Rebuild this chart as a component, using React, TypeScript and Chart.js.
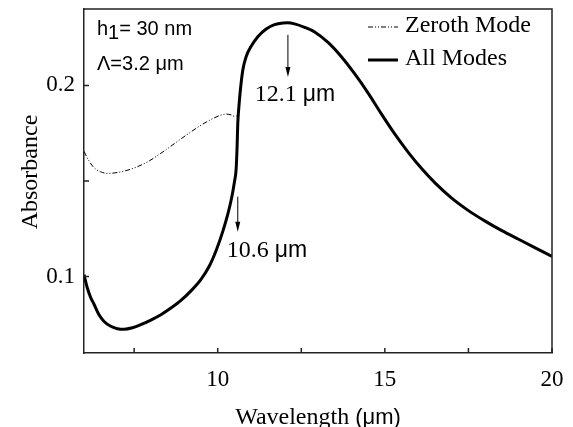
import React, { useEffect, useRef } from "react";
import { Chart, registerables } from "chart.js";

Chart.register(...registerables);

// ---- data ----
const allModesX = [6.0, 6.1, 6.2, 6.3, 6.45, 6.6, 6.8, 7.0, 7.2, 7.45, 7.7, 8.0, 8.3, 8.6, 8.9, 9.2, 9.5, 9.75, 9.95, 10.15, 10.3, 10.42, 10.5, 10.55, 10.58, 10.6, 10.63, 10.68, 10.75, 10.85, 11.0, 11.2, 11.45, 11.7, 11.95, 12.1, 12.3, 12.6, 12.9, 13.3, 13.7, 14.1, 14.5, 14.9, 15.3, 15.7, 16.1, 16.5, 17.0, 17.5, 18.0, 18.5, 19.0, 19.5, 20.0];
const allModesY = [0.101, 0.094, 0.089, 0.0855, 0.080, 0.0765, 0.074, 0.0727, 0.0724, 0.0732, 0.0748, 0.0772, 0.080, 0.0835, 0.0875, 0.0925, 0.0985, 0.1055, 0.1135, 0.1235, 0.1325, 0.1415, 0.1495, 0.156, 0.168, 0.18, 0.188, 0.198, 0.208, 0.215, 0.2205, 0.2255, 0.2295, 0.2318, 0.2327, 0.2328, 0.2322, 0.2304, 0.228, 0.2225, 0.215, 0.206, 0.196, 0.185, 0.1745, 0.165, 0.1565, 0.149, 0.141, 0.1345, 0.129, 0.124, 0.1195, 0.115, 0.1105];

const zerothX = [6.0, 6.15, 6.3, 6.5, 6.7, 6.9, 7.2, 7.5, 7.9, 8.3, 8.7, 9.1, 9.5, 9.8, 10.05, 10.25, 10.4, 10.5, 10.56, 10.6];
const zerothY = [0.1655, 0.1605, 0.157, 0.1548, 0.154, 0.1542, 0.1552, 0.1568, 0.16, 0.1645, 0.1695, 0.1745, 0.1792, 0.1822, 0.1842, 0.185, 0.1846, 0.1838, 0.184, 0.185];

const seriesNames = ["Zeroth Mode", "All Modes"];

const xMin = 6, xMax = 20;
const yMin = 0.06, yMax = 0.24;
const xTickValues = [7.5, 10, 12.5, 15, 17.5, 20];
const xTickLabels = ["", "10", "", "15", "", "20"];
const yTickValues = [0.1, 0.15, 0.2];
const yTickLabels = ["0.1", "", "0.2"];

const xTitle = "Wavelength ";
const xTitleUnit = "(\u03bcm)";
const yTitle = "Absorbance";

// annotations: arrows (x, yTop, yBottom) and labels (x, y, text)
const arrowX = [12.1, 10.6];
const arrowYTop = [0.2265, 0.1418];
const arrowYBottom = [0.2044, 0.1235];
const arrowLabelX = [11.11, 10.27];
const arrowLabelY = [0.195, 0.1135];
const arrowLabelNum = ["12.1 ", "10.6 "];
const infoLines = ["h", "1", "= 30 nm", "\u039b=3.2 \u03bcm"];

const SERIF = "'Liberation Serif', 'Times New Roman', serif";
const SANS = "'Liberation Sans', Arial, sans-serif";

const overlay = {
  id: "overlay",
  afterDraw(chart: any) {
    const { ctx, chartArea: a, scales } = chart;
    const x = scales.x, y = scales.y;
    ctx.save();
    ctx.strokeStyle = "#222";
    ctx.fillStyle = "#000";
    ctx.lineWidth = 1.5;
    // inward ticks
    ctx.beginPath();
    xTickValues.forEach((v) => {
      const px = x.getPixelForValue(v);
      ctx.moveTo(px, a.bottom);
      ctx.lineTo(px, a.bottom - 5);
    });
    yTickValues.forEach((v) => {
      const py = y.getPixelForValue(v);
      ctx.moveTo(a.left, py);
      ctx.lineTo(a.left + 5, py);
    });
    ctx.stroke();

    // arrows
    ctx.lineWidth = 1;
    ctx.strokeStyle = "#000";
    arrowX.forEach((v, i) => {
      const px = x.getPixelForValue(v);
      const p1 = y.getPixelForValue(arrowYTop[i]);
      const p2 = y.getPixelForValue(arrowYBottom[i]);
      ctx.beginPath();
      ctx.moveTo(px, p1);
      ctx.lineTo(px, p2 - 6);
      ctx.stroke();
      ctx.beginPath();
      ctx.moveTo(px, p2);
      ctx.lineTo(px - 2.5, p2 - 10);
      ctx.lineTo(px + 2.5, p2 - 10);
      ctx.closePath();
      ctx.fill();
    });

    // arrow labels
    ctx.textBaseline = "middle";
    ctx.textAlign = "left";
    arrowLabelX.forEach((v, i) => {
      const px = x.getPixelForValue(v);
      const py = y.getPixelForValue(arrowLabelY[i]);
      ctx.font = `24px ${SERIF}`;
      ctx.fillText(arrowLabelNum[i], px, py);
      const w = ctx.measureText(arrowLabelNum[i]).width;
      ctx.font = `23px ${SANS}`;
      ctx.fillText("\u03bcm", px + w, py);
    });

    // info text
    ctx.textBaseline = "alphabetic";
    const ix = a.left + 13;
    ctx.font = `20px ${SANS}`;
    ctx.fillText(infoLines[0], ix, a.top + 26);
    let w = ctx.measureText(infoLines[0]).width;
    ctx.fillText(infoLines[1], ix + w, a.top + 30);
    w += ctx.measureText(infoLines[1]).width;
    ctx.fillText(infoLines[2], ix + w, a.top + 26);
    ctx.fillText(infoLines[3], ix, a.top + 61);

    // legend
    const lx = a.right - 184;
    const ds = chart.data.datasets;
    const rows = [a.top + 18, a.top + 51];
    ds.forEach((d: any, i: number) => {
      const ly = rows[i];
      ctx.beginPath();
      ctx.strokeStyle = d.borderColor;
      ctx.lineWidth = d.borderWidth;
      ctx.setLineDash(d.borderDash || []);
      ctx.moveTo(lx, ly);
      ctx.lineTo(lx + 30, ly);
      ctx.stroke();
      ctx.setLineDash([]);
      ctx.font = `24px ${SERIF}`;
      ctx.textBaseline = "middle";
      ctx.fillText(d.label, lx + 37, ly - 1);
    });

    // axis titles
    ctx.textBaseline = "alphabetic";
    ctx.font = `24px ${SERIF}`;
    const w1 = ctx.measureText(xTitle).width;
    ctx.font = `22px ${SANS}`;
    const w2 = ctx.measureText(xTitleUnit).width;
    const cx = (a.left + a.right) / 2;
    const sx = cx - (w1 + w2) / 2;
    ctx.font = `24px ${SERIF}`;
    ctx.fillText(xTitle, sx, 424);
    ctx.font = `22px ${SANS}`;
    ctx.fillText(xTitleUnit, sx + w1, 424);

    ctx.save();
    ctx.translate(37, 172);
    ctx.rotate(-Math.PI / 2);
    ctx.textAlign = "center";
    ctx.font = `24px ${SERIF}`;
    ctx.fillText(yTitle, 0, 0);
    ctx.restore();

    ctx.restore();
  },
};

export default function App() {
  const ref = useRef<HTMLCanvasElement>(null);
  useEffect(() => {
    if (!ref.current) return;
    const chart = new Chart(ref.current, {
      type: "line",
      data: {
        datasets: [
          {
            label: seriesNames[0],
            data: zerothX.map((v, i) => ({ x: v, y: zerothY[i] })),
            borderColor: "#000",
            borderWidth: 1,
            borderDash: [5, 2, 1, 2, 1, 2],
            pointRadius: 0,
            cubicInterpolationMode: "monotone",
            fill: false,
          },
          {
            label: seriesNames[1],
            data: allModesX.map((v, i) => ({ x: v, y: allModesY[i] })),
            borderColor: "#000",
            borderWidth: 3,
            pointRadius: 0,
            cubicInterpolationMode: "monotone",
            fill: false,
          },
        ],
      },
      options: {
        animation: false,
        responsive: false,
        events: [],
        layout: { padding: { top: 9, right: 21, left: 0, bottom: 0 } },
        plugins: { legend: { display: false }, tooltip: { enabled: false } },
        scales: {
          x: {
            type: "linear",
            min: xMin,
            max: xMax,
            grid: { display: false, drawTicks: false },
            border: { display: true, color: "#222", width: 1.5 },
            afterFit: (s: any) => { s.height = 74; s.paddingLeft = 0; s.paddingRight = 0; s.paddingTop = 0; s.paddingBottom = 0; },
            afterBuildTicks: (s: any) => { s.ticks = xTickValues.map((v) => ({ value: v })); },
            ticks: {
              autoSkip: false,
              maxRotation: 0,
              padding: 13,
              color: "#000",
              font: { family: SERIF, size: 23 },
              callback: (v: any) => { const i = xTickValues.indexOf(Number(v)); return i >= 0 ? xTickLabels[i] : ""; },
            },
          },
          y: {
            type: "linear",
            min: yMin,
            max: yMax,
            grid: { display: false, drawTicks: false },
            border: { display: true, color: "#222", width: 1.5 },
            afterFit: (s: any) => { s.width = 84; s.paddingLeft = 0; s.paddingRight = 0; s.paddingTop = 0; s.paddingBottom = 0; },
            afterBuildTicks: (s: any) => { s.ticks = yTickValues.map((v) => ({ value: v })); },
            ticks: {
              autoSkip: false,
              padding: 9,
              color: "#000",
              font: { family: SERIF, size: 23 },
              callback: (v: any) => { const i = yTickValues.indexOf(Number(v)); return i >= 0 ? yTickLabels[i] : ""; },
            },
          },
        },
      },
      plugins: [
        overlay,
        {
          id: "frame",
          afterDatasetsDraw(chart: any) {
            const { ctx, chartArea: a } = chart;
            ctx.save();
            ctx.strokeStyle = "#222";
            ctx.lineWidth = 1.5;
            ctx.beginPath();
            ctx.moveTo(a.left, a.top);
            ctx.lineTo(a.right, a.top);
            ctx.lineTo(a.right, a.bottom);
            ctx.stroke();
            ctx.restore();
          },
        },
      ],
    } as any);
    return () => chart.destroy();
  }, []);
  return (
    <div style={{ position: "fixed", left: 0, top: 0, width: 573, height: 427, background: "#fff" }}>
      <canvas ref={ref} width={573} height={427} style={{ width: 573, height: 427, display: "block" }} />
    </div>
  );
}
